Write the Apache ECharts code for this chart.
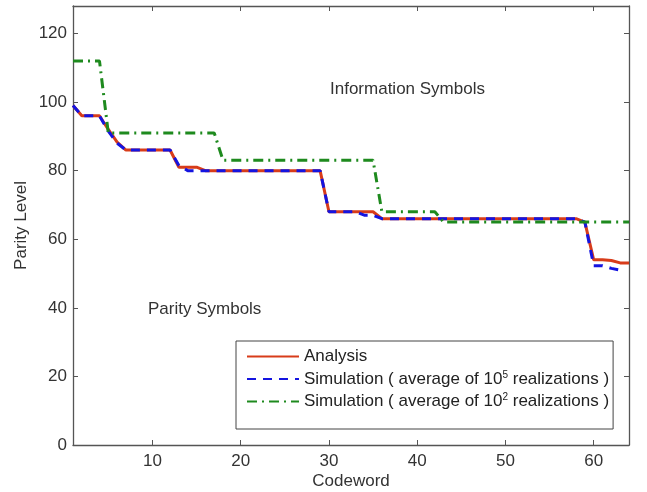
<!DOCTYPE html>
<html>
<head>
<meta charset="utf-8">
<script src="https://cdn.jsdelivr.net/npm/echarts@6/dist/echarts.min.js"></script>
<style>html,body{margin:0;padding:0;background:#fff;}#c{width:647px;height:492px;}</style>
</head>
<body>
<div id="c"></div>
<script>
const codewords = [1,2,3,4,5,6,7,8,9,10,11,12,13,14,15,16,17,18,19,20,21,22,23,24,25,26,27,28,29,30,31,32,
  33,34,35,36,37,38,39,40,41,42,43,44,45,46,47,48,49,50,51,52,53,54,55,56,57,58,59,60,61,62,63,64];
const analysis = [99,96,96,96,92,88.3,86,86,86,86,86,86,81,81,81,80,80,80,80,80,80,80,80,80,80,80,80,80,80,68,68,68,
  68,68,68,66,66,66,66,66,66,66,66,66,66,66,66,66,66,66,66,66,66,66,66,66,66,66,65,54,54,53.8,53.1,53.1];
const sim1e5 = [99,96,96,96,91.5,88,86,86,86,86,86,86,81.5,80,80,80,80,80,80,80,80,80,80,80,80,80,80,80,80,68,68,68,
  68,67,67,66,66,66,66,66,66,66,66,66,66,66,66,66,66,66,66,66,66,66,66,66,66,66,65,52.3,52.3,51.5,51];
const sim1e2 = [112,112,112,112,91,91,91,91,91,91,91,91,91,91,91,91,91,83,83,83,83,83,83,83,83,83,83,83,83,83,83,83,
  83,83,83,68,68,68,68,68,68,68,65,65,65,65,65,65,65,65,65,65,65,65,65,65,65,65,65,65,65,65,65,65];
const xTicks = [10,20,30,40,50,60];
const yTicks = [0,20,40,60,80,100,120];
const seriesNames = ['Analysis', 'Simulation ( average of 10^5 realizations )', 'Simulation ( average of 10^2 realizations )'];

function pairs(vals){ return vals.map((v,i)=>[codewords[i], v]); }

const FONT = '"Liberation Sans", Arial, Helvetica, sans-serif';
const FS = 17;
const axisColor = '#555';
const chart = echarts.init(document.getElementById('c'), null, {renderer:'canvas'});

const baseX = {
  type:'value', min:1, max:64,
  axisLine:{show:true, onZero:false, lineStyle:{color:axisColor, width:1.3}},
  splitLine:{show:false},
};
const baseY = {
  type:'value', min:0, max:128,
  axisLine:{show:true, onZero:false, lineStyle:{color:axisColor, width:1.3}},
  splitLine:{show:false},
};

chart.setOption({
  animation:false,
  backgroundColor:'#fff',
  textStyle:{fontFamily:FONT},
  grid:{left:73, right:18, top:6, bottom:47, containLabel:false, outerBoundsMode:'none'},
  xAxis:[
    Object.assign({}, baseX, {
      position:'bottom',
      axisTick:{show:true, inside:true, length:5, customValues:xTicks, lineStyle:{color:axisColor}},
      axisLabel:{show:true, customValues:xTicks, fontSize:FS, color:'#333', margin:8, fontFamily:FONT},
      name:'Codeword', nameLocation:'middle', nameGap:28, nameMoveOverlap:false,
      nameTextStyle:{fontSize:FS, color:'#333', fontFamily:FONT}
    }),
    Object.assign({}, baseX, {
      position:'top',
      axisTick:{show:true, inside:true, length:5, customValues:xTicks, lineStyle:{color:axisColor}},
      axisLabel:{show:false}
    })
  ],
  yAxis:[
    Object.assign({}, baseY, {
      position:'left',
      axisTick:{show:true, inside:true, length:5, customValues:yTicks, lineStyle:{color:axisColor}},
      axisLabel:{show:true, customValues:yTicks, fontSize:FS, color:'#333', margin:6, fontFamily:FONT},
      name:'Parity Level', nameLocation:'middle', nameGap:43, nameMoveOverlap:false,
      nameTextStyle:{fontSize:FS, color:'#333', fontFamily:FONT}
    }),
    Object.assign({}, baseY, {
      position:'right',
      axisTick:{show:true, inside:true, length:5, customValues:yTicks, lineStyle:{color:axisColor}},
      axisLabel:{show:false}
    })
  ],
  legend:{
    orient:'vertical', left:236, top:341,
    itemWidth:52, itemHeight:14, itemGap:5,
    padding:[7,4,19,10],
    backgroundColor:'#fff', borderColor:'#444', borderWidth:1, borderRadius:0,
    itemStyle:{opacity:0},
    data:seriesNames,
    formatter:function(name){
      if(name.indexOf('10^5')>=0) return 'Simulation ( average of 10{sup|5} realizations )';
      if(name.indexOf('10^2')>=0) return 'Simulation ( average of 10{sup|2} realizations )';
      return name;
    },
    textStyle:{fontSize:FS, color:'#222', fontFamily:FONT,
      rich:{sup:{fontSize:10, color:'#222', fontFamily:FONT, padding:[0,0,8,0]}}}
  },
  graphic:[
    {type:'text', left:330, top:81, silent:true,
     style:{text:'Information Symbols', fontSize:FS, fontFamily:FONT, fill:'#333'}},
    {type:'text', left:148, top:301, silent:true,
     style:{text:'Parity Symbols', fontSize:FS, fontFamily:FONT, fill:'#333'}}
  ],
  series:[
    {name:seriesNames[0], type:'line', data:pairs(analysis), showSymbol:false, symbol:'none',
     lineStyle:{color:'#d83c1a', width:3}, itemStyle:{color:'#d83c1a'}, z:2},
    {name:seriesNames[1], type:'line', data:pairs(sim1e5), showSymbol:false, symbol:'none',
     lineStyle:{color:'#1414e0', width:3, type:[9,7]}, itemStyle:{color:'#1414e0'}, z:3},
    {name:seriesNames[2], type:'line', data:pairs(sim1e2), showSymbol:false, symbol:'none',
     lineStyle:{color:'#1e8a1e', width:3, type:[10,5,2,5]}, itemStyle:{color:'#1e8a1e'}, z:4}
  ]
});
</script>
</body>
</html>
